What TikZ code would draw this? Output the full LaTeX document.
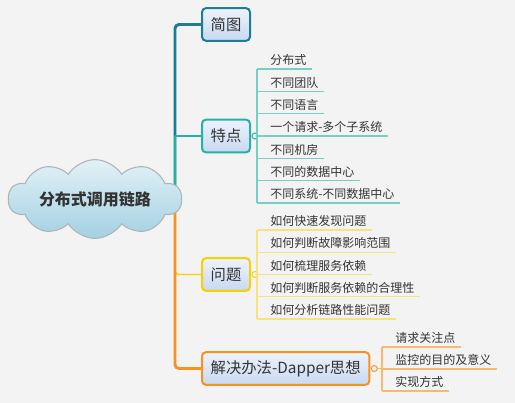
\documentclass[tikz,border=0pt]{standalone}
\usepackage{fontspec}
\setmainfont{Noto Sans CJK SC}
\usetikzlibrary{shapes.symbols,backgrounds}
\definecolor{mapbg}{HTML}{F3F3F3}
\definecolor{mapink}{HTML}{333333}
\definecolor{jtteal}{HTML}{1A7F96}
\definecolor{tdteal}{HTML}{22B4A0}
\definecolor{tdleaf}{HTML}{74D0C2}
\definecolor{wtyellow}{HTML}{F6D000}
\definecolor{wtleaf}{HTML}{F8E27E}
\definecolor{jjorange}{HTML}{F7921E}
\definecolor{jjleaf}{HTML}{F9B870}
\definecolor{boxtop}{HTML}{EEF3FC}
\definecolor{boxbot}{HTML}{C8D9F1}
\definecolor{cloudtop}{HTML}{E2F1F7}
\definecolor{cloudbot}{HTML}{A3D1E1}
\definecolor{cloudrim}{HTML}{AEB4B8}

\begin{document}
\begin{tikzpicture}[x=0.75pt,y=-0.75pt,font=\fontsize{9}{11}\selectfont,text=mapink]
  \tikzstyle{topic}=[draw, line width=1.5pt, rounded corners=3pt, top color=boxtop, bottom color=boxbot, inner xsep=6.5pt, minimum height=24.5pt, anchor=west, font=\fontsize{11.5}{14}\selectfont]
  \tikzstyle{leaf}=[anchor=south west, inner sep=0pt]
  \tikzstyle{dot}=[circle, draw, fill=mapbg, line width=0.7pt, inner sep=0pt, minimum size=4.5pt]
  \tikzstyle{trunk}=[line width=2.2pt, rounded corners=3pt]
  \tikzstyle{twig}=[line width=1.1pt, rounded corners=3pt]
  \tikzstyle{leafline}=[line width=0.9pt]

  \path[use as bounding box] (0,0) rectangle (515,403);

  % Root cloud and the fork point of the trunk lines.
  \node[cloud, cloud puffs=10, cloud puff arc=115, aspect=2.9, draw=cloudrim, line width=0.8pt, top color=cloudtop, bottom color=cloudbot, minimum width=130pt, minimum height=47pt, inner sep=0pt, font=\fontsize{12}{14}\selectfont\bfseries] (root) at (95,199) {分布式调用链路};
  \coordinate (fork) at (175,199);

  % Main topics.
  \node[topic, draw=jtteal] (jt) at (201,24.5) {简图};
  \node[topic, draw=tdteal] (td) at (201,136) {特点};
  \node[topic, draw=wtyellow] (wt) at (201,274.5) {问题};
  \node[topic, draw=jjorange] (jj) at (201,368.5) {解决办法-Dapper思想};

  \node[dot, draw=tdteal] (tddot) at ([xshift=3pt]td.east) {};
  \node[dot, draw=wtyellow] (wtdot) at ([xshift=3pt]wt.east) {};
  \node[dot, draw=jjorange] (jjdot) at ([xshift=3pt]jj.east) {};

  % Trunk lines, behind the cloud.
  \begin{pgfonlayer}{background}
    \fill[mapbg] (0,0) rectangle (515,403);
    \draw[trunk, jtteal] (fork) |- (jt.west);
    \draw[trunk, tdteal] (fork) -- (fork |- td.west);
    \draw[twig, tdteal] (fork |- td.west) -- (td.west);
    \draw[twig, wtyellow] (fork) |- (wt.west);
    \draw[trunk, jjorange] (fork) |- (jj.west);
  \end{pgfonlayer}

  % Leaves of 特点.
  \foreach \i/\y/\txt in {1/69/分布式, 2/91.3/不同团队, 3/113.7/不同语言, 4/136/一个请求-多个子系统, 5/158.3/不同机房, 6/180.7/不同的数据中心, 7/203/不同系统-不同数据中心} {
    \coordinate (td\i u) at (257,\y);
    \node[leaf] (td\i) at (270,\y-3) {\txt};
    \draw[leafline, tdleaf] (td\i u) -- ([xshift=4pt]td\i.south east |- td\i u);
  }
  \draw[leafline, tdleaf] (td1u) -- (td7u);
  \draw[leafline, tdleaf] (tddot) -- (tddot -| td1u);

  % Leaves of 问题.
  \foreach \i/\y/\txt in {1/230/如何快速发现问题, 2/252.25/如何判断故障影响范围, 3/274.5/如何梳理服务依赖, 4/296.75/如何判断服务依赖的合理性, 5/319/如何分析链路性能问题} {
    \coordinate (wt\i u) at (257,\y);
    \node[leaf] (wt\i) at (270,\y-3) {\txt};
    \draw[leafline, wtleaf] (wt\i u) -- ([xshift=4pt]wt\i.south east |- wt\i u);
  }
  \draw[leafline, wtleaf] (wt1u) -- (wt5u);
  \draw[leafline, wtleaf] (wtdot) -- (wtdot -| wt1u);

  % Leaves of 解决办法.
  \foreach \i/\y/\txt in {1/347/请求关注点, 2/369/监控的目的及意义, 3/391/实现方式} {
    \coordinate (jj\i u) at (382,\y);
    \node[leaf] (jj\i) at (395,\y-3) {\txt};
    \draw[leafline, jjleaf] (jj\i u) -- ([xshift=4pt]jj\i.south east |- jj\i u);
  }
  \draw[leafline, jjleaf] (jj1u) -- (jj3u);
  \draw[leafline, jjleaf] (jjdot) -- (jjdot -| jj1u);
\end{tikzpicture}
\end{document}
